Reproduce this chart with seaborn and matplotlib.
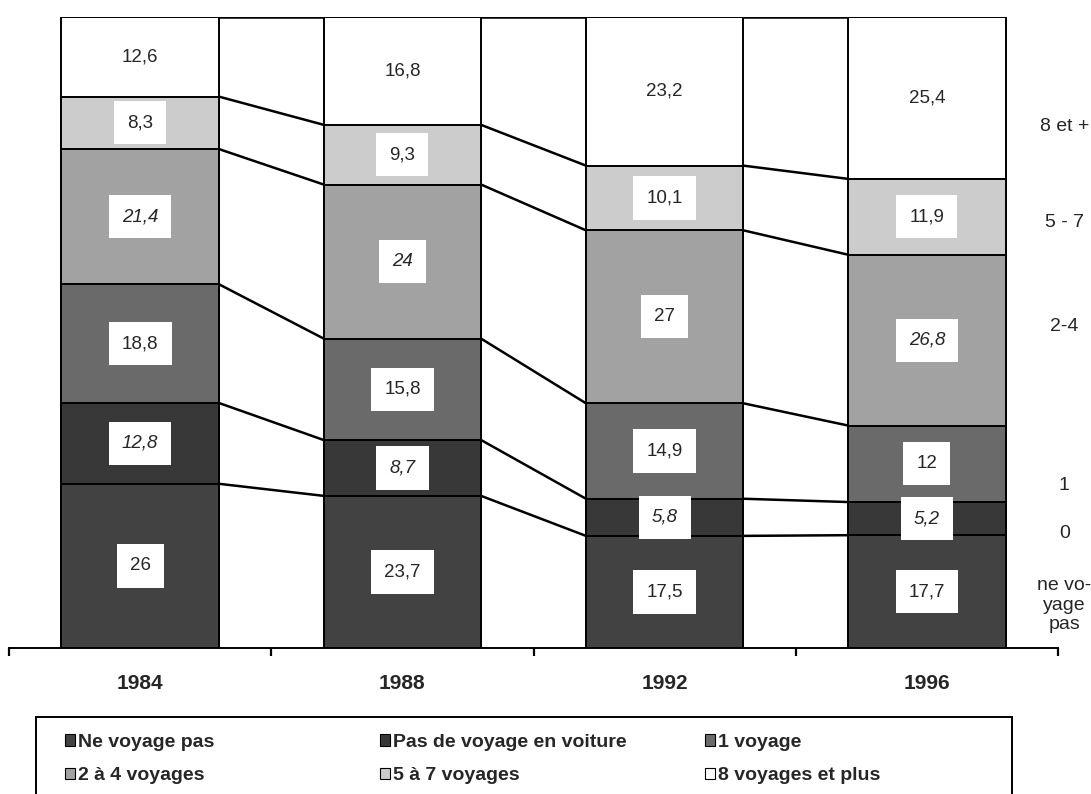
import numpy as np
import pandas as pd
import matplotlib
matplotlib.use('Agg')
import matplotlib.pyplot as plt
from matplotlib.patches import Patch, Rectangle
import seaborn as sns

# data (percent)
years = ['1984', '1988', '1992', '1996']
categories = ['Ne voyage pas', 'Pas de voyage en voiture', '1 voyage',
              '2 à 4 voyages', '5 à 7 voyages', '8 voyages et plus']
ne_voyage_pas = [26, 23.7, 17.5, 17.7]
pas_en_voiture = [12.8, 8.7, 5.8, 5.2]
un_voyage = [18.8, 15.8, 14.9, 12]
deux_a_quatre = [21.4, 24, 27, 26.8]
cinq_a_sept = [8.3, 9.3, 10.1, 11.9]
huit_et_plus = [12.6, 16.8, 23.2, 25.4]

side_labels = ['ne vo-\nyage\npas', '0', '1', '2-4', '5 - 7', '8 et +']
side_label_y = [6.8, 18.2, 25.8, 50.9, 67.4, 82.6]

# which value labels are set in italics (series index, year index)
italic_cells = {(1, 0), (1, 1), (1, 2), (1, 3), (3, 0), (3, 1), (3, 3)}

colors = ['#424242', '#383838', '#6a6a6a', '#a2a2a2', '#cccccc', '#ffffff']

sns.set_style('white')
plt.rcParams['font.family'] = ['Liberation Sans', 'DejaVu Sans']

series = [ne_voyage_pas, pas_en_voiture, un_voyage, deux_a_quatre, cinq_a_sept, huit_et_plus]
df = pd.DataFrame(series, index=categories, columns=years)
share = df / df.sum(axis=0) * 100
cum = share.cumsum(axis=0)
bottoms = cum - share

fig = plt.figure(figsize=(10.91, 7.94), dpi=100)
ax = fig.add_axes([9 / 1091, 146 / 794, 1049 / 1091, 631 / 794])

# stacked bars: draw cumulative totals from the top down
for i in range(len(categories) - 1, -1, -1):
    sns.barplot(x=years, y=cum.iloc[i].values, color=colors[i], saturation=1,
                width=0.6, edgecolor='black', linewidth=1.4, errorbar=None, ax=ax)

# connecting lines between bars
half = 0.3
for i in range(len(categories)):
    for j in range(len(years) - 1):
        ax.plot([j + half, j + 1 - half], [cum.iloc[i, j], cum.iloc[i, j + 1]],
                color='black', lw=1.8, solid_capstyle='butt')

# value labels
for i, cat in enumerate(categories):
    for j, yr in enumerate(years):
        v = df.iloc[i, j]
        txt = f'{v:g}'.replace('.', ',')
        y = bottoms.iloc[i, j] + share.iloc[i, j] / 2
        ax.text(j, y, txt, ha='center', va='center', fontsize=13.5,
                style='italic' if (i, j) in italic_cells else 'normal',
                bbox=dict(boxstyle='square,pad=0.7', fc='white', ec='none'))

# labels on the right
for lab, y in zip(side_labels, side_label_y):
    ax.text(1.006, y, lab, transform=ax.get_yaxis_transform(), ha='center', va='center',
            fontsize=14, linespacing=1.2, clip_on=False)

ax.set_xlim(-0.5, 3.5)
ax.set_ylim(0, 100)
ax.set_yticks([])
ax.set_xlabel('')
ax.set_ylabel('')
for s in ['top', 'left', 'right']:
    ax.spines[s].set_visible(False)
ax.spines['bottom'].set_linewidth(1.4)
ax.spines['bottom'].set_color('black')
ax.set_xticks(range(len(years)))
ax.set_xticklabels(years, fontsize=15, fontweight='bold')
ax.set_xticks([-0.5, 0.5, 1.5, 2.5, 3.5], minor=True)
ax.tick_params(axis='x', which='major', bottom=False, length=0, pad=19)
ax.tick_params(axis='x', which='minor', bottom=True, length=6, width=1.6,
               direction='out', color='black')

# legend in three columns
handles = [Patch(facecolor=c, edgecolor='black', linewidth=0.8) for c in colors]
col_x = [55 / 1091, 370 / 1091, 695 / 1091]
for k in range(3):
    idx = [k, k + 3]
    fig.legend([handles[n] for n in idx], [categories[n] for n in idx],
               loc='upper left', bbox_to_anchor=(col_x[k], (794 - 724) / 794),
               frameon=False, borderpad=0, labelspacing=0.86, handlelength=0.55,
               handleheight=0.55, handletextpad=0.15,
               prop={'size': 14, 'weight': 'bold'})
fig.add_artist(Rectangle((36 / 1091, -0.05), (1012 - 36) / 1091, 0.05 + 77 / 794,
                         transform=fig.transFigure, fill=False, lw=1.4, ec='black'))

fig.savefig('out.png', dpi=100)
